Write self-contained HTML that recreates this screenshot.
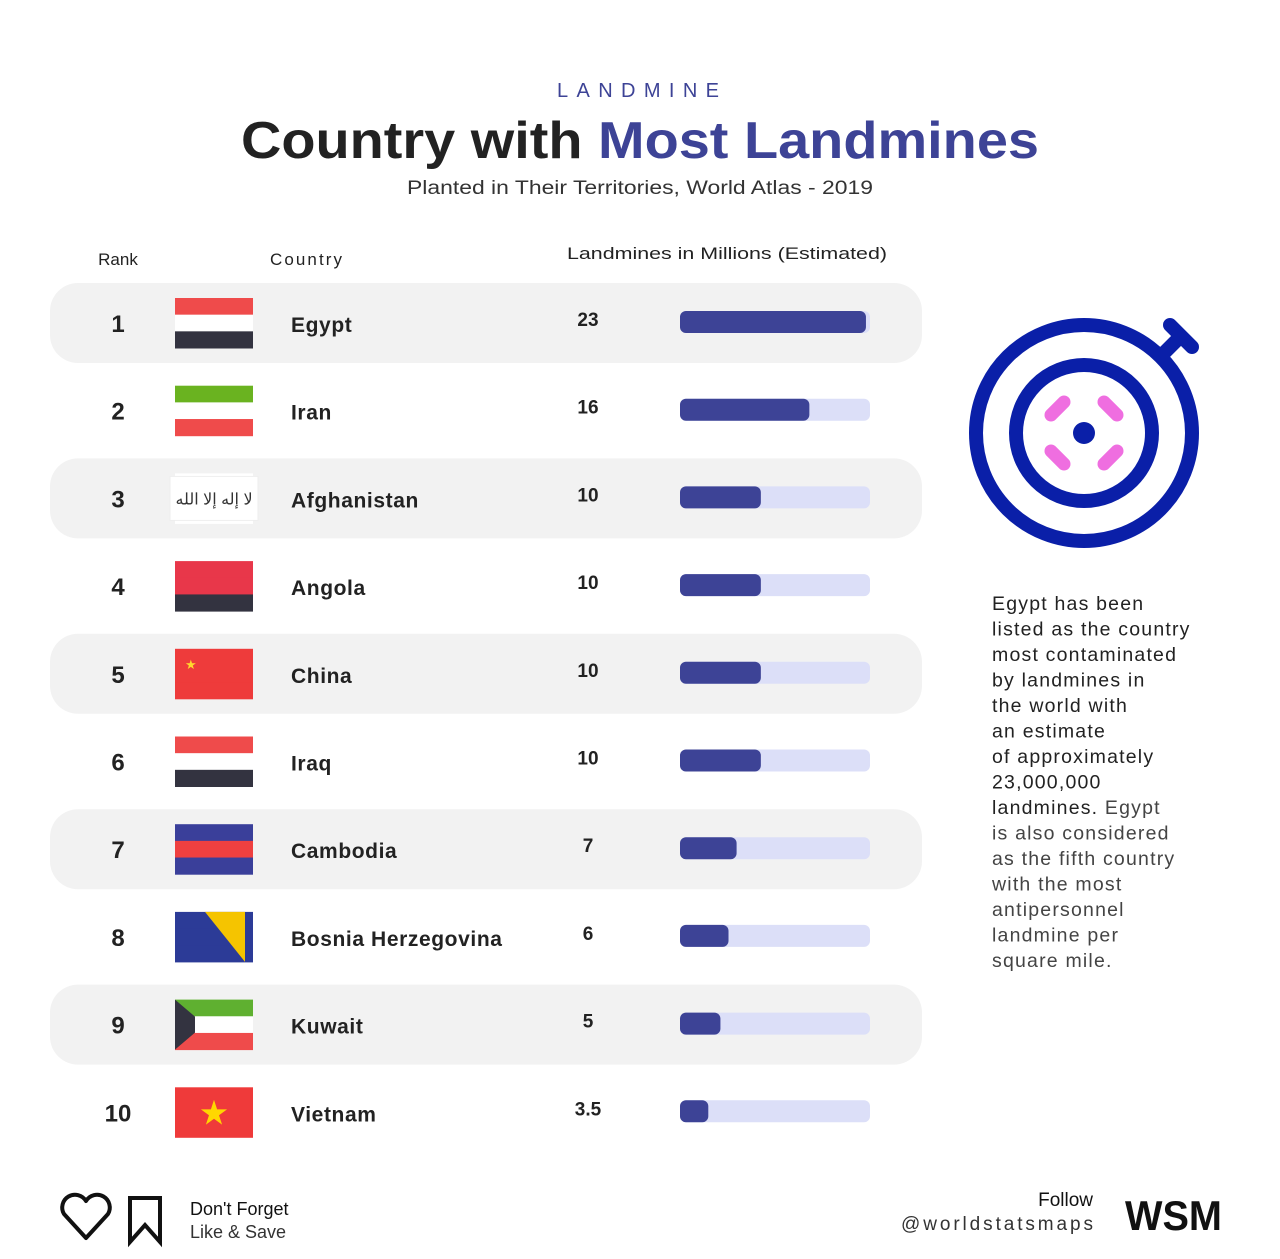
<!DOCTYPE html>
<html><head><meta charset="utf-8"><style>
html,body{margin:0;padding:0;background:#fff;}
svg{display:block;font-family:"Liberation Sans",sans-serif;}
</style></head><body>
<svg id="chart" width="1280" height="1259" viewBox="0 0 1280 1259">
<text x="640" y="97" text-anchor="middle" font-size="20" letter-spacing="4" fill="#3d4396" textLength="166">LANDMINE</text>
<text x="640" y="158" text-anchor="middle" font-size="52" font-weight="bold" fill="#222" textLength="798" lengthAdjust="spacingAndGlyphs">Country with <tspan fill="#3d4396">Most Landmines</tspan></text>
<text x="640" y="194" text-anchor="middle" font-size="19" fill="#333" textLength="466" lengthAdjust="spacingAndGlyphs">Planted in Their Territories, World Atlas - 2019</text>
<text x="118" y="265" text-anchor="middle" font-size="17" fill="#222">Rank</text>
<text x="270" y="265" font-size="17" fill="#222" textLength="72">Country</text>
<text x="727" y="259" text-anchor="middle" font-size="17" fill="#222" textLength="320" lengthAdjust="spacingAndGlyphs">Landmines in Millions (Estimated)</text>
<g id="rows"></g>
<g>
<circle cx="1084" cy="433" r="108" fill="none" stroke="#0a1fa8" stroke-width="14"/>
<circle cx="1084" cy="433" r="68" fill="none" stroke="#0a1fa8" stroke-width="14"/>
<line x1="1160" y1="357" x2="1180" y2="337" stroke="#0a1fa8" stroke-width="14"/>
<line x1="1170" y1="325" x2="1192" y2="347" stroke="#0a1fa8" stroke-width="14" stroke-linecap="round"/>
<circle cx="1084" cy="433" r="11" fill="#0a1fa8"/>
<g stroke="#ef6ee0" stroke-width="13" stroke-linecap="round">
<line x1="1051" y1="415" x2="1064" y2="402"/><line x1="1104" y1="402" x2="1117" y2="415"/>
<line x1="1051" y1="451" x2="1064" y2="464"/><line x1="1104" y1="464" x2="1117" y2="451"/>
</g></g>
<text font-size="19.5" fill="#222" letter-spacing="1.2">
<tspan x="992" y="610">Egypt has been</tspan><tspan x="992" y="635.5">listed as the country</tspan><tspan x="992" y="661">most contaminated</tspan><tspan x="992" y="686.5">by landmines in</tspan><tspan x="992" y="712">the world with</tspan><tspan x="992" y="737.5">an estimate</tspan><tspan x="992" y="763">of approximately</tspan><tspan x="992" y="788.5">23,000,000</tspan><tspan x="992" y="814">landmines. <tspan fill="#444">Egypt</tspan></tspan><tspan x="992" y="839.5" fill="#444">is also considered</tspan><tspan x="992" y="865" fill="#444">as the fifth country</tspan><tspan x="992" y="890.5" fill="#444">with the most</tspan><tspan x="992" y="916" fill="#444">antipersonnel</tspan><tspan x="992" y="941.5" fill="#444">landmine per</tspan><tspan x="992" y="967" fill="#444">square mile.</tspan>
</text>
<path d="M86 1238 L64 1214 A12 12 0 0 1 86 1201 A12 12 0 0 1 108 1214 Z" fill="none" stroke="#111" stroke-width="4" stroke-linejoin="round"/>
<path d="M130 1198 H160 V1242 L145 1225 L130 1242 Z" fill="none" stroke="#111" stroke-width="4"/>
<text x="190" y="1215" font-size="18" fill="#111">Don't Forget</text>
<text x="190" y="1238" font-size="18" fill="#333">Like &amp; Save</text>
<text x="1093" y="1206" text-anchor="end" font-size="19" fill="#111">Follow</text>
<text x="1093" y="1230" text-anchor="end" font-size="19" fill="#333" textLength="192">@worldstatsmaps</text>
<text x="1125" y="1230" font-size="42" font-weight="bold" fill="#111" textLength="97" lengthAdjust="spacingAndGlyphs">WSM</text>
</svg>
<script>
const ranks = [1,2,3,4,5,6,7,8,9,10];
const countries = ["Egypt","Iran","Afghanistan","Angola","China","Iraq","Cambodia","Bosnia Herzegovina","Kuwait","Vietnam"];
const values = [23,16,10,10,10,10,7,6,5,3.5];
const valueLabels = ["23","16","10","10","10","10","7","6","5","3.5"];
const flagStripes = [
 ["#ef4b4b","#fff","#333340"],["#6ab320","#fff","#ef4b4b"],["#fff","#fff","#fff"],
 ["#e8374a","#e8374a","#333340"],["#ee3b3b","#ee3b3b","#ee3b3b"],["#ef4b4b","#fff","#333340"],
 ["#3a3f9a","#ef4040","#3a3f9a"],["#2c3b97","#2c3b97","#2c3b97"],["#5fb030","#fff","#ef4b4b"],["#ef3a3a","#ef3a3a","#ef3a3a"]];
const NS="http://www.w3.org/2000/svg";
const g=document.getElementById('rows');
const y0=323, pitch=87.7, trackX=680, trackW=190;
function yPos(i){return y0+i*pitch;}
function xLen(v){return Math.min(trackW, v/23.5*trackW);}
function mk(tag,attrs,parent){const e=document.createElementNS(NS,tag);for(const k in attrs)e.setAttribute(k,attrs[k]);(parent||g).appendChild(e);return e;}
ranks.forEach((r,i)=>{
 const cy=yPos(i);
 const row=mk('g',{});
 
 
 if(i%2===0){const bg=mk('rect',{x:50,y:cy-40,width:872,height:80,rx:28,fill:'#f2f2f2'},row);
  }
 const rt=mk('text',{x:118,y:cy+9,'text-anchor':'middle','font-size':24,'font-weight':'bold',fill:'#222'},row);
 rt.textContent=r;
 const fl=mk('g',{},row);
 flagStripes[i].forEach((c,k)=>mk('rect',{x:175,y:cy-25+k*50/3,width:78,height:50/3+0.5,fill:c},fl));
 if(i===2){mk('rect',{x:170,y:cy-22,width:88,height:44,fill:'#fff',stroke:'#eee'},fl);const t=mk('text',{x:214,y:cy+6,'text-anchor':'middle','font-size':16,fill:'#333'},fl);t.textContent='ﻻ إله إلا الله';}
 if(i===4){const s=mk('text',{x:185,y:cy-5,'font-size':13,fill:'#ffd92e'},fl);s.textContent='★';}
 if(i===7){mk('path',{d:`M205 ${cy-25} H245 V${cy+25} Z`,fill:'#f5c400'},fl);}
 if(i===8){mk('path',{d:`M175 ${cy-25} L195 ${cy-8} V${cy+8} L175 ${cy+25} Z`,fill:'#333340'},fl);}
 if(i===9){const s=mk('text',{x:214,y:cy+12,'text-anchor':'middle','font-size':34,fill:'#ffd700'},fl);s.textContent='★';}
 const ct=mk('text',{x:291,y:cy+9,'font-size':21,fill:'#222','font-weight':'bold','letter-spacing':'0.6'},row);
 ct.textContent=countries[i];
 const vt=mk('text',{x:588,y:cy+3,'text-anchor':'middle','font-size':19,'font-weight':'bold',fill:'#222'},row);
 vt.textContent=valueLabels[i];
 const tr=mk('rect',{x:trackX,y:cy-12,width:trackW,height:22,rx:6,fill:'#dcdff8'},row);
 
 const b=mk('rect',{x:trackX,y:cy-12,width:xLen(values[i]),height:22,rx:6,fill:'#3d4396'},row);
 
 
});
</script>
</body></html>
